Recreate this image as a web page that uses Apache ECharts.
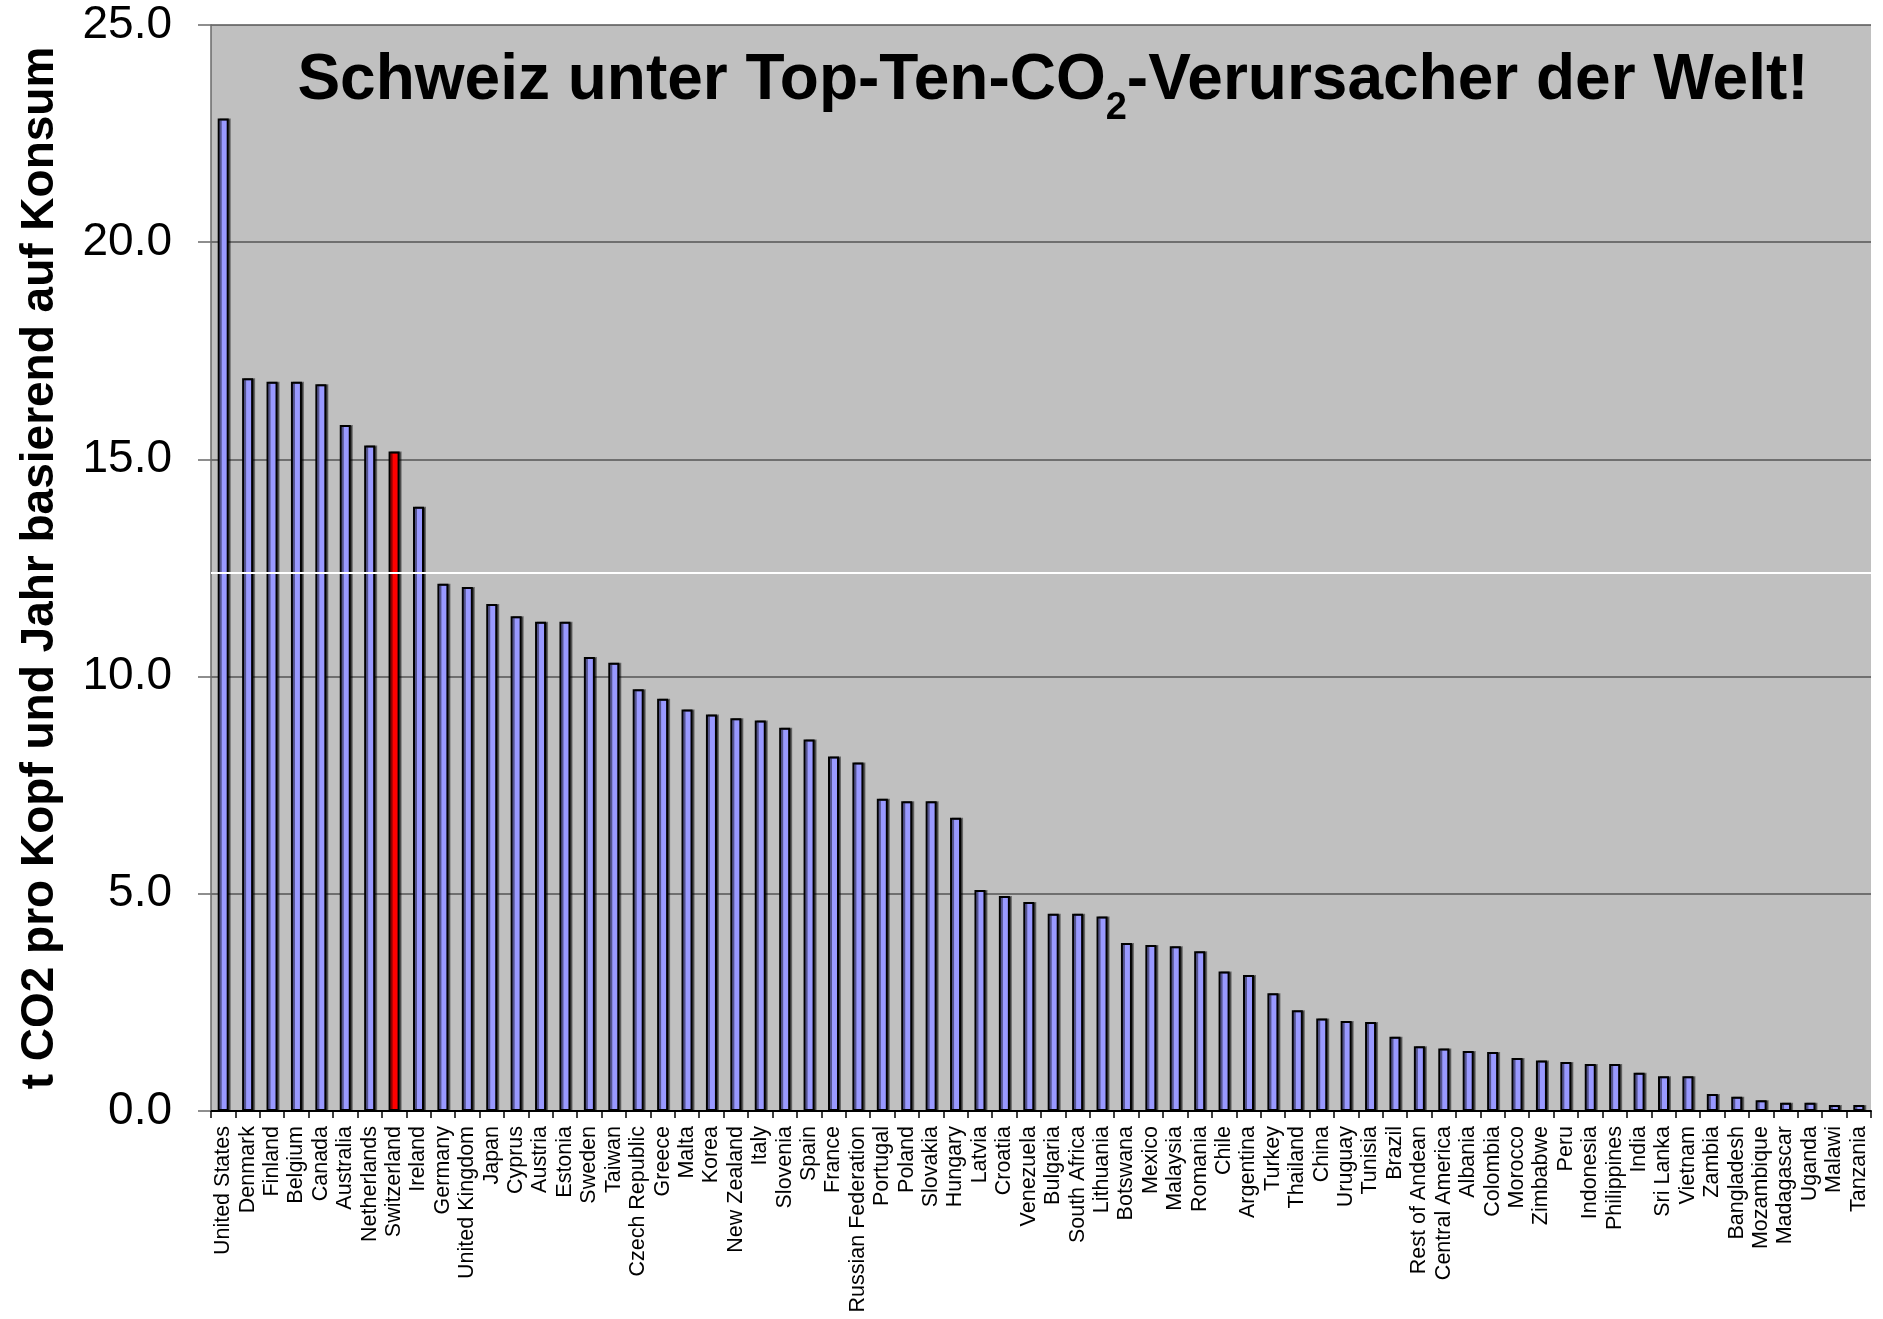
<!DOCTYPE html>
<html>
<head>
<meta charset="utf-8">
<script src="https://cdn.jsdelivr.net/npm/echarts@6/dist/echarts.min.js"></script>
<style>
html,body{margin:0;padding:0;background:#fff;}
#chart{width:1883px;height:1319px;}
</style>
</head>
<body>
<div id="chart"></div>
<script>
const countries = ['United States','Denmark','Finland','Belgium','Canada','Australia','Netherlands','Switzerland','Ireland','Germany','United Kingdom','Japan','Cyprus','Austria','Estonia','Sweden','Taiwan','Czech Republic','Greece','Malta','Korea','New Zealand','Italy','Slovenia','Spain','France','Russian Federation','Portugal','Poland','Slovakia','Hungary','Latvia','Croatia','Venezuela','Bulgaria','South Africa','Lithuania','Botswana','Mexico','Malaysia','Romania','Chile','Argentina','Turkey','Thailand','China','Uruguay','Tunisia','Brazil','Rest of Andean','Central America','Albania','Colombia','Morocco','Zimbabwe','Peru','Indonesia','Philippines','India','Sri Lanka','Vietnam','Zambia','Bangladesh','Mozambique','Madagascar','Uganda','Malawi','Tanzania'];
const co2PerCapita = [22.85,16.87,16.79,16.79,16.73,15.79,15.32,15.18,13.91,12.14,12.06,11.67,11.39,11.26,11.26,10.45,10.32,9.71,9.49,9.24,9.13,9.04,8.99,8.82,8.55,8.16,8.02,7.19,7.13,7.13,6.75,5.09,4.95,4.81,4.54,4.54,4.48,3.87,3.82,3.79,3.68,3.21,3.13,2.71,2.32,2.13,2.07,2.05,1.71,1.49,1.44,1.38,1.36,1.22,1.16,1.13,1.08,1.08,0.88,0.80,0.80,0.39,0.33,0.25,0.19,0.19,0.14,0.14];
const highlighted = 'Switzerland';
const referenceLineValue = 12.38;
const yTicks = [0, 5, 10, 15, 20, 25];

const FONT = "'Liberation Sans', Arial, sans-serif";
const chart = echarts.init(document.getElementById('chart'));
chart.setOption({
  backgroundColor: '#ffffff',
  animation: false,
  title: {
    text: '{a|Schweiz unter Top-Ten-CO}{s|2}{a|-Verursacher der Welt!}',
    left: 1048, top: 44, textAlign: 'center',
    textStyle: {
      rich: {
        a: {fontFamily: FONT, fontWeight: 'bold', fontSize: 64, color: '#000', verticalAlign: 'bottom', padding: [0,0,15,0]},
        s: {fontFamily: FONT, fontWeight: 'bold', fontSize: 38, color: '#000', verticalAlign: 'bottom'}
      }
    }
  },
  grid: {left: 211, right: 12, top: 25, bottom: 208, show: true, backgroundColor: '#C0C0C0', borderWidth: 0, containLabel: false, outerBoundsMode: 'none'},
  xAxis: {
    type: 'category',
    data: countries,
    axisLine: {lineStyle: {color: '#000', width: 2}},
    axisTick: {show: true, length: 7, lineStyle: {color: '#000', width: 1.5}},
    axisLabel: {interval: 0, rotate: 90, fontFamily: FONT, fontSize: 21.5, color: '#000', margin: 15}
  },
  yAxis: {
    type: 'value',
    min: 0, max: 25, interval: 5,
    name: 't CO2 pro Kopf und Jahr basierend auf Konsum',
    nameLocation: 'middle',
    nameGap: 148,
    nameRotate: 90,
    nameTextStyle: {fontFamily: FONT, fontWeight: 'bold', fontSize: 46, color: '#000'},
    axisLine: {show: true, lineStyle: {color: '#6a6a6a', width: 1.5}},
    axisTick: {show: true, length: 13, lineStyle: {color: '#6a6a6a', width: 1.5}},
    axisLabel: {fontFamily: FONT, fontSize: 46, color: '#000', margin: 39,
      formatter: v => yTicks.includes(v) ? v.toFixed(1) : ''},
    splitLine: {show: true, lineStyle: {color: '#555555', width: 1.5}}
  },
  series: [
    {
      type: 'line', data: [], z: 1, silent: true,
      markLine: {silent: true, symbol: 'none', label: {show: false},
        lineStyle: {color: '#ffffff', width: 2, type: 'solid'},
        data: [{yAxis: referenceLineValue}]}
    },
    {
      type: 'bar', z: 2,
      barWidth: 11,
      data: co2PerCapita.map((v, i) => ({
        value: v,
        itemStyle: {color: countries[i] === highlighted ? '#FF0000' : '#9999FF'}
      })),
      itemStyle: {borderColor: '#000', borderWidth: 2, shadowColor: 'rgba(0,0,0,0.45)', shadowOffsetX: 2, shadowOffsetY: 0, shadowBlur: 0}
    }
  ]
});
</script>
</body>
</html>
